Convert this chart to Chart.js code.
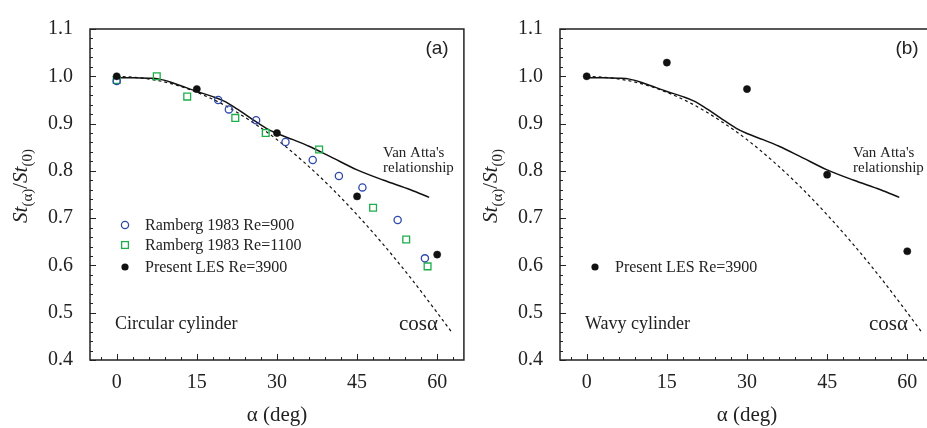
<!DOCTYPE html>
<html><head><meta charset="utf-8">
<script src="https://cdn.jsdelivr.net/npm/chart.js@4.4.1/dist/chart.umd.min.js"></script>
<style>
html,body{margin:0;padding:0;overflow:hidden;background:#fff;width:927px;height:428px;position:relative}
canvas{position:absolute;top:0}
#ca{left:0}#cb{left:470px}
</style></head><body>
<canvas id="ca" width="470" height="428"></canvas>
<canvas id="cb" width="470" height="428"></canvas>
<script>
// ---------- data ----------
const xTicks = [0, 15, 30, 45, 60];
const yTicks = [0.4, 0.5, 0.6, 0.7, 0.8, 0.9, 1.0, 1.1];

const vanAttaX = [0, 3, 6, 8, 10, 12, 15, 18, 20, 22, 25, 28, 30, 33, 36, 40, 45, 50, 55, 58.5];
const vanAttaY = [0.997, 0.997, 0.996, 0.994, 0.988, 0.980, 0.968, 0.957, 0.948, 0.935, 0.912, 0.890, 0.879, 0.866, 0.852, 0.830, 0.802, 0.780, 0.760, 0.744];

const cosX = [0, 5, 10, 15, 20, 25, 30, 35, 40, 45, 50, 55, 60, 62.7];
const cosY = [1.0, 0.996, 0.985, 0.966, 0.940, 0.906, 0.866, 0.819, 0.766, 0.707, 0.643, 0.574, 0.500, 0.459];

const ramberg900X = [0, 19.0, 21.0, 26.1, 31.6, 36.7, 41.6, 46.0, 52.6, 57.7];
const ramberg900Y = [0.990, 0.950, 0.930, 0.907, 0.861, 0.823, 0.789, 0.765, 0.696, 0.615];

const ramberg1100X = [0, 7.5, 13.2, 22.2, 27.9, 37.9, 48.0, 54.2, 58.2];
const ramberg1100Y = [0.992, 1.000, 0.957, 0.912, 0.880, 0.845, 0.722, 0.655, 0.598];

const lesCircularX = [0, 15, 30, 45, 60];
const lesCircularY = [1.000, 0.973, 0.880, 0.746, 0.623];

const lesWavyX = [0, 15, 30, 45, 60];
const lesWavyY = [1.000, 1.029, 0.973, 0.792, 0.630];

// ---------- helpers ----------
const SERIF = "'Liberation Serif','Times New Roman',serif";
const SANS = "'Liberation Sans',Arial,sans-serif";
const zip = (xs, ys) => xs.map((x, i) => ({x: x, y: ys[i]}));

const BLUE = '#2f48aa', GREEN = '#1cae48';

function pointsDs(label, xs, ys, style) {
  return Object.assign({label, data: zip(xs, ys), showLine: false}, style);
}
function lineDs(label, xs, ys, style) {
  return Object.assign({label, data: zip(xs, ys), showLine: true, pointRadius: 0,
    borderColor: '#111', backgroundColor: 'transparent', fill: false}, style);
}

const styles = {
  r900: {pointStyle: 'circle', pointRadius: 3.6, pointBorderWidth: 1.3, borderColor: BLUE, pointBorderColor: BLUE, backgroundColor: 'rgba(0,0,0,0)', pointBackgroundColor: 'rgba(0,0,0,0)'},
  r1100: {pointStyle: 'rect', pointRadius: 4.8, pointBorderWidth: 1.3, borderColor: GREEN, pointBorderColor: GREEN, backgroundColor: 'rgba(0,0,0,0)', pointBackgroundColor: 'rgba(0,0,0,0)'},
  les: {pointStyle: 'circle', pointRadius: 3.6, pointBorderWidth: 0.5, borderColor: '#111', pointBorderColor: '#111', backgroundColor: '#111', pointBackgroundColor: '#111'}
};

function drawYTitle(ctx, cx, cy) {
  ctx.save();
  ctx.translate(cx, cy);
  ctx.rotate(-Math.PI / 2);
  const parts = [
    ['St', 'italic 21px ' + SERIF, 0],
    ['(\u03b1)', '15px ' + SERIF, 5],
    ['/', '21px ' + SERIF, 0],
    ['St', 'italic 21px ' + SERIF, 0],
    ['(0)', '15px ' + SERIF, 5]
  ];
  let total = 0;
  parts.forEach(p => { ctx.font = p[1]; p.push(ctx.measureText(p[0]).width); total += p[3]; });
  let x = -total / 2;
  ctx.fillStyle = '#222';
  ctx.textBaseline = 'alphabetic';
  ctx.textAlign = 'left';
  parts.forEach(p => { ctx.font = p[1]; ctx.fillText(p[0], x, 7 + p[2]); x += p[3]; });
  ctx.restore();
}

function drawMarker(ctx, kind, x, y) {
  ctx.save();
  if (kind === 'r900') {
    ctx.strokeStyle = BLUE; ctx.lineWidth = 1.3;
    ctx.beginPath(); ctx.arc(x, y, 3.6, 0, Math.PI * 2); ctx.stroke();
  } else if (kind === 'r1100') {
    ctx.strokeStyle = GREEN; ctx.lineWidth = 1.3;
    ctx.strokeRect(x - 3.4, y - 3.4, 6.8, 6.8);
  } else {
    ctx.fillStyle = '#111';
    ctx.beginPath(); ctx.arc(x, y, 3.6, 0, Math.PI * 2); ctx.fill();
  }
  ctx.restore();
}

const framePlugin = {
  id: 'frame',
  afterDatasetsDraw(chart, args, opts) {
    const ctx = chart.ctx, a = chart.chartArea;
    const xs = chart.scales.x, ys = chart.scales.y;
    ctx.save();
    // ticks
    ctx.strokeStyle = '#222'; ctx.lineWidth = 1;
    for (let v = -3; v <= 63; v += 3) {
      const px = Math.round(xs.getPixelForValue(v)) + 0.5;
      const len = (v % 15 === 0) ? 6 : 3;
      ctx.beginPath(); ctx.moveTo(px, a.bottom); ctx.lineTo(px, a.bottom - len); ctx.stroke();
    }
    for (let k = 20; k <= 55; k++) {
      const v = k / 50;
      const py = Math.round(ys.getPixelForValue(v)) + 0.5;
      const len = (k % 5 === 0) ? 6 : 3;
      ctx.beginPath(); ctx.moveTo(a.left, py); ctx.lineTo(a.left + len, py); ctx.stroke();
    }
    // frame
    ctx.lineWidth = 1.5; ctx.strokeStyle = '#222';
    ctx.strokeRect(a.left, a.top, a.right - a.left, a.bottom - a.top);
    // titles
    ctx.fillStyle = '#222';
    ctx.font = '21px ' + SERIF; ctx.textAlign = 'center'; ctx.textBaseline = 'middle';
    ctx.fillText('\u03b1 (deg)', (a.left + a.right) / 2, 415);
    drawYTitle(ctx, 20, 186);
    // panel label
    ctx.font = '19px ' + SANS; ctx.textAlign = 'center'; ctx.textBaseline = 'alphabetic';
    ctx.fillText(opts.panel, a.left + 347, 54);
    // Van Atta label
    ctx.font = '15px ' + SERIF; ctx.textAlign = 'left';
    ctx.fillText("Van Atta's", a.left + 293, 157);
    ctx.fillText('relationship', a.left + 293, 172);
    // cylinder label
    ctx.font = '18px ' + SERIF;
    ctx.fillText(opts.cylinder, a.left + 25, 329);
    // cos label
    ctx.font = '21px ' + SERIF;
    ctx.fillText('cos\u03b1', a.left + 309, 330);
    // legend
    ctx.font = '16px ' + SERIF; ctx.textBaseline = 'middle';
    opts.legend.forEach(item => {
      drawMarker(ctx, item.kind, a.left + 35, item.y);
      ctx.fillStyle = '#222';
      ctx.fillText(item.text, a.left + 55, item.y + 1);
    });
    ctx.restore();
  }
};

function makeChart(id, datasets, opts) {
  return new Chart(document.getElementById(id), {
    type: 'scatter',
    data: {datasets},
    options: {
      responsive: false, animation: false, devicePixelRatio: 1,
      layout: {padding: {top: 17, right: 6, left: 0, bottom: 0}},
      plugins: {legend: {display: false}, tooltip: {enabled: false}, frame: opts},
      scales: {
        x: {
          type: 'linear', min: -5, max: 65,
          grid: {display: false, drawTicks: false}, border: {display: false},
          afterBuildTicks: s => { s.ticks = xTicks.map(v => ({value: v})); },
          afterFit: s => { s.height = 68; },
          ticks: {padding: 11, color: '#222', font: {family: SERIF, size: 20}, callback: v => String(v), maxRotation: 0}
        },
        y: {
          type: 'linear', min: 0.4, max: 1.1,
          grid: {display: false, drawTicks: false}, border: {display: false},
          afterBuildTicks: s => { s.ticks = yTicks.map(v => ({value: v})); },
          afterFit: s => { s.width = 90; },
          ticks: {padding: 17, color: '#222', font: {family: SERIF, size: 20}, callback: v => Number(v).toFixed(1)}
        }
      }
    },
    plugins: [framePlugin]
  });
}

makeChart('ca', [
  pointsDs('Present LES Re=3900', lesCircularX, lesCircularY, styles.les),
  pointsDs('Ramberg 1983 Re=900', ramberg900X, ramberg900Y, styles.r900),
  pointsDs('Ramberg 1983 Re=1100', ramberg1100X, ramberg1100Y, styles.r1100),
  lineDs("Van Atta's relationship", vanAttaX, vanAttaY, {borderWidth: 1.5, cubicInterpolationMode: 'monotone'}),
  lineDs('cos\u03b1', cosX, cosY, {borderWidth: 1.2, borderDash: [3, 3], cubicInterpolationMode: 'monotone'})
], {
  panel: '(a)', cylinder: 'Circular cylinder',
  legend: [
    {kind: 'r900', text: 'Ramberg 1983 Re=900', y: 225},
    {kind: 'r1100', text: 'Ramberg 1983 Re=1100', y: 245},
    {kind: 'les', text: 'Present LES Re=3900', y: 267}
  ]
});

makeChart('cb', [
  pointsDs('Present LES Re=3900', lesWavyX, lesWavyY, styles.les),
  lineDs("Van Atta's relationship", vanAttaX, vanAttaY, {borderWidth: 1.5, cubicInterpolationMode: 'monotone'}),
  lineDs('cos\u03b1', cosX, cosY, {borderWidth: 1.2, borderDash: [3, 3], cubicInterpolationMode: 'monotone'})
], {
  panel: '(b)', cylinder: 'Wavy cylinder',
  legend: [
    {kind: 'les', text: 'Present LES Re=3900', y: 267}
  ]
});
</script>
</body></html>
